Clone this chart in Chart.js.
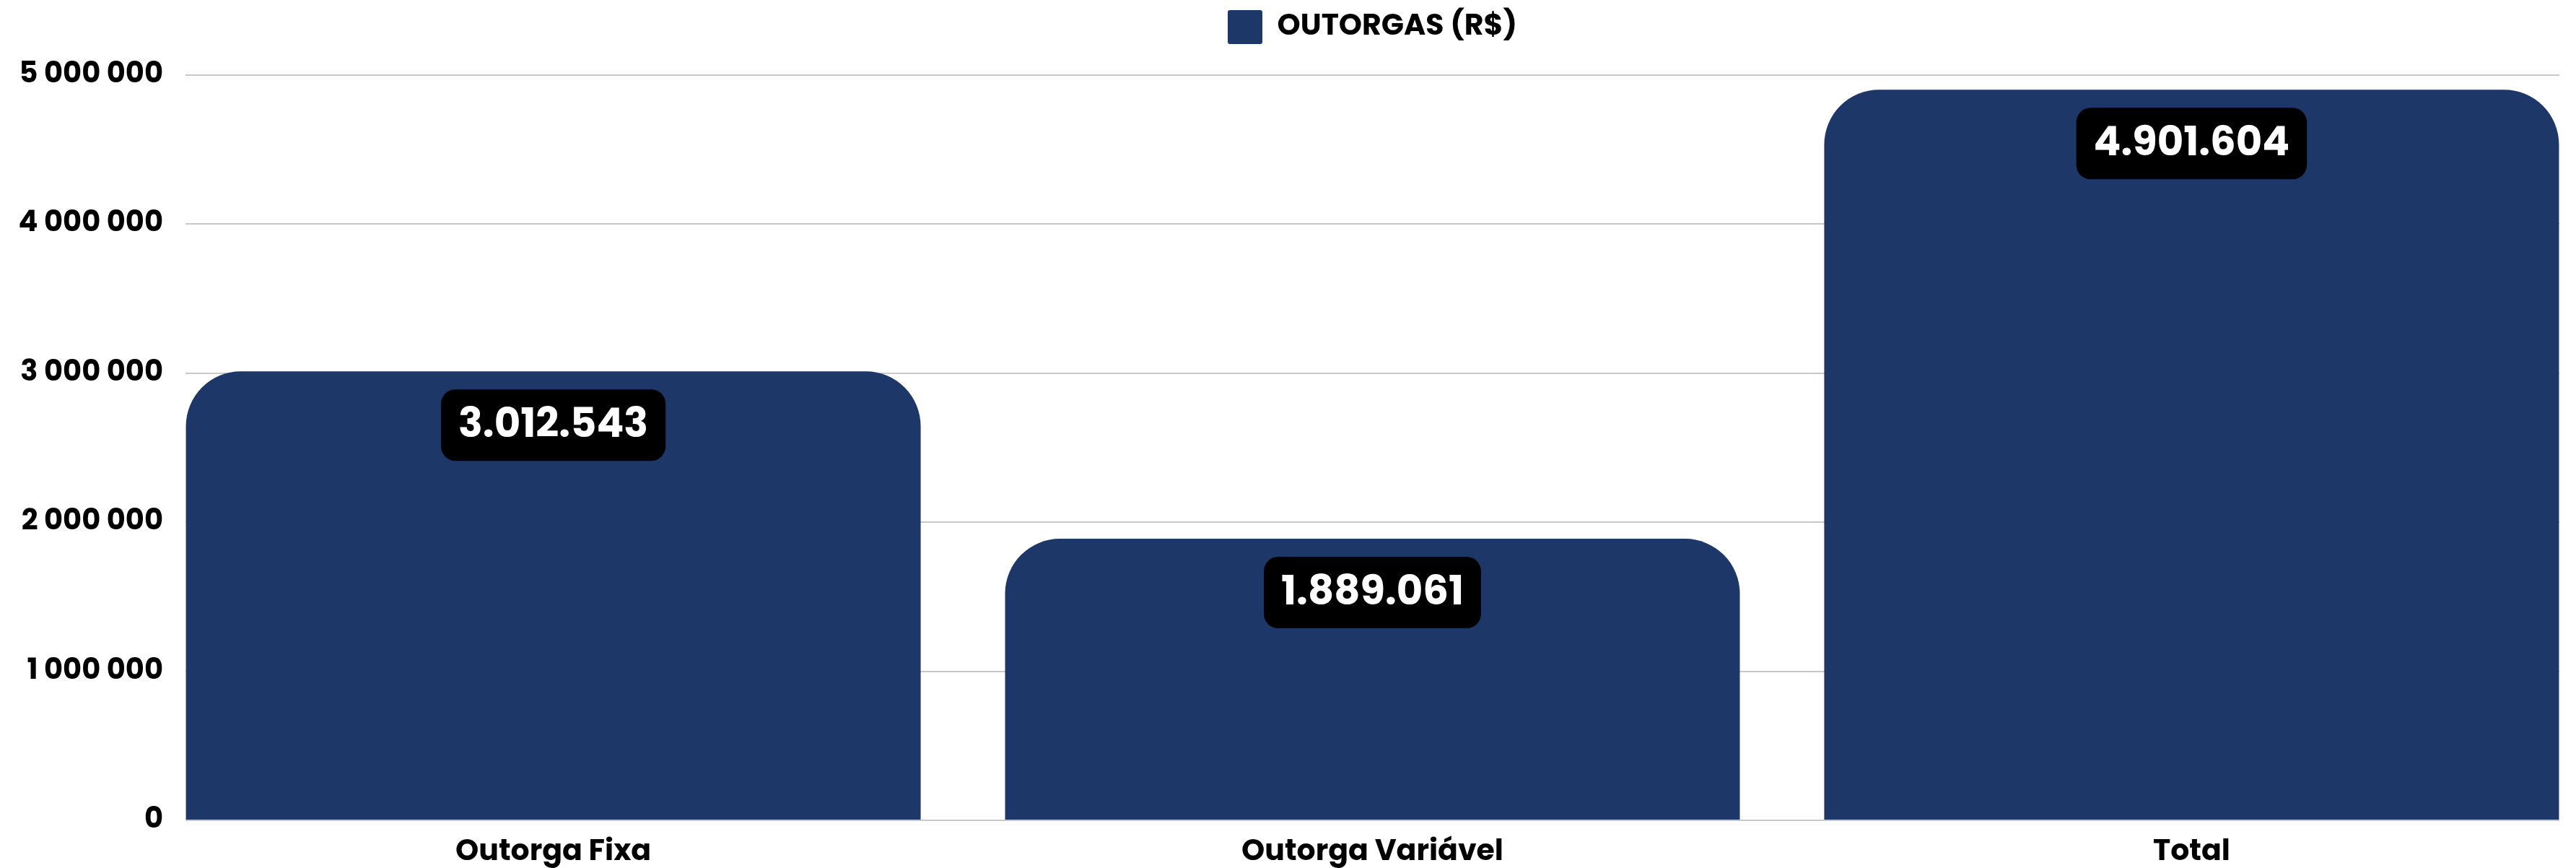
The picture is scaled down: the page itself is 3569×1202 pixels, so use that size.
<!DOCTYPE html>
<html>
<head>
<meta charset="utf-8">
<script src="https://cdn.jsdelivr.net/npm/chart.js@4.4.1/dist/chart.umd.min.js"></script>
<style>
    body { margin: 0; background: #fff; }
    .chart-box { width: 3569px; height: 1202px; position: relative; }
</style>
</head>
<body>
<div class="chart-box">
    <canvas id="chart-outorgas"></canvas>
</div>
<script>
// dados
var categorias = ["Outorga Fixa", "Outorga Variável", "Total"];
var valores = [3012543, 1889061, 4901604];
var serieNome = "OUTORGAS (R$)";
var yTicks = [0, 1000000, 2000000, 3000000, 4000000, 5000000];

var fonte = "Poppins, Inter, sans-serif";
var corBarra = "#1c3768";
var margemCategoria = 0.449; // meia-folga antes da 1a e depois da ultima barra

function milharEspaco(v) {
    return String(v).replace(/\B(?=(\d{3})+(?!\d))/g, " ");
}
function milharPonto(v) {
    return String(v).replace(/\B(?=(\d{3})+(?!\d))/g, ".");
}

// rotulos pretos em cima das barras
var rotulosValor = {
    id: "rotulosValor",
    afterDatasetsDraw: function (chart) {
        var ctx = chart.ctx;
        var meta = chart.getDatasetMeta(0);
        ctx.save();
        ctx.font = "bold 56px " + fonte;
        ctx.textAlign = "center";
        ctx.textBaseline = "middle";
        meta.data.forEach(function (bar, i) {
            var texto = milharPonto(valores[i]);
            var w = ctx.measureText(texto).width + 48;
            var h = 99;
            var x = bar.x - w / 2;
            var y = bar.y + 25;
            ctx.fillStyle = "#000";
            ctx.beginPath();
            ctx.roundRect(x, y, w, h, 20);
            ctx.fill();
            ctx.fillStyle = "#fff";
            ctx.fillText(texto, bar.x, y + h / 2 + 2);
        });
        ctx.restore();
    }
};

// legenda: mais espaco embaixo e centrada sobre a area do grafico
var ajusteLegenda = {
    id: "ajusteLegenda",
    beforeLayout: function (chart) {
        var lg = chart.legend;
        if (lg && !lg._patched) {
            var fit0 = lg.fit;
            lg.fit = function () {
                fit0.call(this);
                this.height += 33;
            };
            lg._patched = true;
        }
    },
    afterLayout: function (chart) {
        var lg = chart.legend;
        var desloc = (chart.chartArea.left + chart.chartArea.right) / 2 - (lg.left + lg.right) / 2;
        lg.left += desloc;
        lg.right += desloc;
    }
};

var ctx = document.getElementById("chart-outorgas").getContext("2d");
var myChart = new Chart(ctx, {
    type: "bar",
    data: {
        labels: categorias,
        datasets: [
            {
                label: serieNome,
                data: valores,
                backgroundColor: corBarra,
                borderWidth: 0,
                borderRadius: { topLeft: 76, topRight: 76 },
                borderSkipped: "bottom",
                barPercentage: 0.897,
                categoryPercentage: 1.0
            },
        ],
    },
    options: {
        animation: false,
        responsive: true,
        maintainAspectRatio: false,
        layout: {
            padding: {
                top: 0,
                right: 23,
                bottom: 0,
                left: 0
            }
        },
        plugins: {
            tooltip: { enabled: false },
            legend: {
                position: "top",
                labels: {
                    boxWidth: 48,
                    boxHeight: 47,
                    useBorderRadius: true,
                    borderRadius: 3,
                    color: "#000",
                    padding: 14,
                    font: { family: fonte, size: 41, weight: "bold" }
                }
            }
        },
        scales: {
            x: {
                afterFit: function (scale) {
                    scale.height = 66;
                },
                afterBuildTicks: function (scale) {
                    scale._startValue = -margemCategoria;
                    scale._valueRange = categorias.length - 1 + 2 * margemCategoria;
                },
                grid: { display: false },
                border: { display: false },
                ticks: {
                    color: "#000",
                    padding: 12,
                    font: { family: fonte, size: 41, weight: "bold" }
                }
            },
            y: {
                min: 0,
                max: 5000000,
                afterFit: function (scale) {
                    scale.width = 257;
                },
                afterBuildTicks: function (scale) {
                    scale.ticks = yTicks.map(function (v) { return { value: v }; });
                },
                grid: {
                    color: "#c8c8c8",
                    lineWidth: 2,
                    drawTicks: false
                },
                border: { display: false },
                ticks: {
                    color: "#000",
                    padding: 31,
                    font: { family: fonte, size: 40, weight: "bold" },
                    callback: function (v) { return milharEspaco(v); }
                }
            }
        }
    },
    plugins: [rotulosValor, ajusteLegenda]
});
</script>
</body>
</html>
